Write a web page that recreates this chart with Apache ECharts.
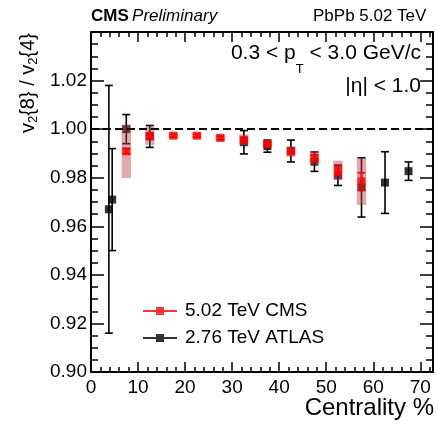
<!DOCTYPE html>
<html>
<head>
<meta charset="utf-8">
<script src="https://cdn.jsdelivr.net/npm/echarts@6/dist/echarts.min.js"></script>
<style>html,body{margin:0;padding:0;background:#fff}#c{width:438px;height:424px}</style>
</head>
<body>
<div id="c"></div>
<script>
// CMS 5.02 TeV
var cmsX    = [7.5, 12.5, 17.5, 22.5, 27.5, 32.5, 37.5, 42.5, 47.5, 52.5, 57.5];
var cmsY    = [0.9909, 0.9973, 0.9973, 0.9973, 0.9964, 0.9956, 0.9939, 0.9908, 0.9882, 0.9830, 0.9785];
var cmsStat = [0.0010, 0.0008, 0.0006, 0.0006, 0.0007, 0.0008, 0.0009, 0.0010, 0.0012, 0.0018, 0.0035];
var cmsSys  = [0.0110, 0.0038, 0.0012, 0.0012, 0.0014, 0.0022, 0.0016, 0.0022, 0.0028, 0.0040, 0.0097];
// ATLAS 2.76 TeV
var atlasX   = [3.8, 4.5, 7.5, 12.5, 32.5, 37.5, 42.5, 47.5, 52.5, 57.5, 62.5, 67.5];
var atlasY   = [0.967, 0.971, 1.000, 0.997, 0.9946, 0.993, 0.991, 0.9866, 0.981, 0.976, 0.978, 0.9827];
var atlasErr = [0.051, 0.021, 0.006, 0.0045, 0.0048, 0.0025, 0.0045, 0.0040, 0.0042, 0.0122, 0.0127, 0.0038];

var xTicks = [0, 10, 20, 30, 40, 50, 60, 70];
var yTicks = [0.90, 0.92, 0.94, 0.96, 0.98, 1.00, 1.02];
var legendNames = ['5.02 TeV CMS', '2.76 TeV ATLAS'];

var FONT = "'Liberation Sans', Arial, sans-serif";
var XMAX = 72.7, YMIN = 0.90, YMAX = 1.04;

var chart = echarts.init(document.getElementById('c'), null, {renderer: 'canvas'});

function errRender(color, lw, cap) {
  return function (params, api) {
    var x = api.value(0), y = api.value(1), e = api.value(2);
    var t = api.coord([x, y + e]), b = api.coord([x, y - e]);
    var st = {stroke: color, lineWidth: lw};
    return {type: 'group', children: [
      {type: 'line', shape: {x1: t[0], y1: t[1], x2: b[0], y2: b[1]}, style: st},
      {type: 'line', shape: {x1: t[0] - cap, y1: t[1], x2: t[0] + cap, y2: t[1]}, style: st},
      {type: 'line', shape: {x1: b[0] - cap, y1: b[1], x2: b[0] + cap, y2: b[1]}, style: st}
    ]};
  };
}

function boxRender(params, api) {
  var x = api.value(0), y = api.value(1), s = api.value(2);
  var p1 = api.coord([x - 1.0, y + s]), p2 = api.coord([x + 1.0, y - s]);
  return {type: 'rect', shape: {x: p1[0], y: p1[1], width: p2[0] - p1[0], height: p2[1] - p1[1]},
          style: {fill: 'rgba(196,60,70,0.45)'}};
}

var tickFmtX = function (v) { return xTicks.indexOf(Math.round(v)) >= 0 && Math.abs(v - Math.round(v)) < 1e-6 ? String(Math.round(v)) : ''; };
var tickFmtY = function (v) {
  for (var i = 0; i < yTicks.length; i++) if (Math.abs(v - yTicks[i]) < 1e-6) return yTicks[i].toFixed(2);
  return '';
};

function xAxisDef(pos, showLabel) {
  return {
    type: 'value', position: pos, min: 0, max: XMAX, interval: 10,
    axisLine: {show: true, onZero: false, lineStyle: {color: '#000', width: 2}},
    axisTick: {show: true, inside: true, length: 10, lineStyle: {color: '#000', width: 1.5}},
    minorTick: {show: true, splitNumber: 5, length: 5, lineStyle: {color: '#000', width: 1.5}},
    axisLabel: {show: showLabel, formatter: tickFmtX, color: '#000', fontSize: 19, fontFamily: FONT, margin: 6,
                showMaxLabel: false},
    splitLine: {show: false}
  };
}
function yAxisDef(pos, showLabel) {
  return {
    type: 'value', position: pos, min: YMIN, max: YMAX, interval: 0.02,
    axisLine: {show: true, onZero: false, lineStyle: {color: '#000', width: 2}},
    axisTick: {show: true, inside: true, length: 13, lineStyle: {color: '#000', width: 1.5}},
    minorTick: {show: true, splitNumber: 4, length: 7, lineStyle: {color: '#000', width: 1.5}},
    axisLabel: {show: showLabel, formatter: tickFmtY, color: '#000', fontSize: 19, fontFamily: FONT, margin: 4},
    splitLine: {show: false}
  };
}

var option = {
  animation: false,
  backgroundColor: '#fff',
  grid: {left: 91, top: 32, right: 5, bottom: 52, containLabel: false},
  xAxis: [xAxisDef('bottom', true), xAxisDef('top', false)],
  yAxis: [yAxisDef('left', true), yAxisDef('right', false)],
  legend: {
    orient: 'vertical', left: 138, top: 296, itemGap: 7, itemWidth: 34, itemHeight: 8,
    textStyle: {color: '#000', fontSize: 19, fontFamily: FONT, lineHeight: 20, padding: [0, 0, 0, 3]},
    data: [
      {name: legendNames[0], icon: 'path://M0,3.1H34V4.9H0Z M13,0H21V8H13Z'},
      {name: legendNames[1], icon: 'path://M0,3.1H34V4.9H0Z M13,0H21V8H13Z'}
    ]
  },
  series: [
    {type: 'custom', renderItem: errRender('#000', 1.6, 4), z: 2, silent: true,
     data: atlasX.map(function (x, i) { return [x, atlasY[i], atlasErr[i]]; })},
    {name: legendNames[1], type: 'scatter', symbol: 'rect', symbolSize: 8, z: 3,
     itemStyle: {color: '#000'},
     data: atlasX.map(function (x, i) { return [x, atlasY[i]]; })},
    {type: 'custom', renderItem: boxRender, z: 4, silent: true,
     data: cmsX.map(function (x, i) { return [x, cmsY[i], cmsSys[i]]; })},
    {type: 'custom', renderItem: errRender('#ff0000', 1.6, 4), z: 5, silent: true,
     data: cmsX.map(function (x, i) { return [x, cmsY[i], cmsStat[i]]; })},
    {name: legendNames[0], type: 'scatter', symbol: 'rect', symbolSize: 8, z: 6,
     itemStyle: {color: '#ff0000'},
     data: cmsX.map(function (x, i) { return [x, cmsY[i]]; }),
     markLine: {silent: true, symbol: 'none', label: {show: false},
       lineStyle: {color: '#000', width: 2, type: [8, 4]},
       data: [[{coord: [0, 1.0]}, {coord: [XMAX, 1.0]}]]}}
  ],
  graphic: [
    {type: 'text', left: 91, top: 8, style: {
      text: '{b|CMS} {i|Preliminary}', fill: '#000',
      rich: {b: {fontSize: 17, fontWeight: 'bold', fontFamily: FONT, fill: '#000'},
             i: {fontSize: 17, fontStyle: 'italic', fontFamily: FONT, fill: '#000'}}}},
    {type: 'text', x: 313, y: 8, style: {text: 'PbPb 5.02 TeV', fontSize: 17, fontFamily: FONT, fill: '#000', verticalAlign: 'top'}},
    {type: 'text', x: 421, y: 43, style: {
      text: '{n|0.3 < p}{s|T}{n| < 3.0 GeV/c}', align: 'right', verticalAlign: 'top', fill: '#000',
      rich: {n: {fontSize: 21, lineHeight: 24, verticalAlign: 'top', fontFamily: FONT, fill: '#000'},
             s: {fontSize: 13, lineHeight: 13, verticalAlign: 'top', padding: [20, 0, 0, 0], fontFamily: FONT, fill: '#000'}}}},
    {type: 'text', x: 421, y: 76, style: {text: '|η| < 1.0', align: 'right', verticalAlign: 'top', fontSize: 21, fontFamily: FONT, fill: '#000'}},
    {type: 'text', x: 434, y: 396, style: {text: 'Centrality %', align: 'right', verticalAlign: 'top', fontSize: 24, fontFamily: FONT, fill: '#000'}},
    {type: 'text', x: 16, y: 33, rotation: Math.PI / 2, style: {
      text: 'v{s|2}{8} / v{s|2}{4}', align: 'right', verticalAlign: 'top', fill: '#000',
      fontSize: 20, lineHeight: 24, fontFamily: FONT,
      rich: {s: {fontSize: 13, lineHeight: 13, padding: [11, 0, 0, 0], verticalAlign: 'top', fontFamily: FONT, fill: '#000'}}}}
  ]
};
chart.setOption(option);
</script>
</body>
</html>
